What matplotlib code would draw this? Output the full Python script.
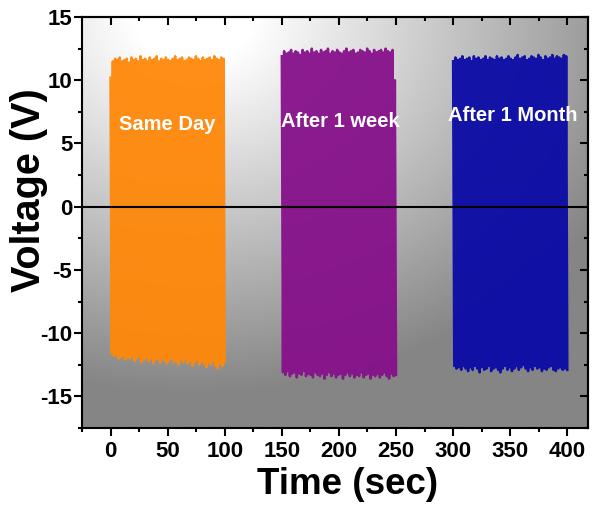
import numpy as np
import matplotlib
matplotlib.use("Agg")
import matplotlib.pyplot as plt
from matplotlib.ticker import MultipleLocator

plt.rcParams['font.family'] = ['Liberation Sans', 'DejaVu Sans']
plt.rcParams['font.weight'] = 'bold'
plt.rcParams['axes.unicode_minus'] = False

# time span of each recording (sec)
block_starts = [0, 150, 300]
block_ends = [100, 250, 400]
block_names = ["Same Day", "After 1 week", "After 1 Month"]
block_colors = ["#ff880a", "#86108a", "#0a0aa6"]

# positive / negative peak voltages (V)
sameday_up = [10.2, 11.5, 11.7, 11.6, 11.8, 11.5, 11.6, 11.7, 11.4, 11.8, 11.6, 11.7, 11.5, 11.9, 11.6,
              11.7, 11.5, 11.8, 11.6, 11.7, 11.9, 11.5, 11.7, 11.6, 11.8, 11.6, 11.5, 11.7, 11.9, 11.6,
              11.7, 11.8, 11.5, 11.6, 11.8, 11.7, 11.6, 11.9, 11.7, 11.5, 11.8, 11.6, 11.7, 11.8, 11.6,
              11.9, 11.7, 11.6, 11.8, 11.7]
sameday_lo = [-11.6, -11.8, -11.7, -12.0, -11.9, -11.8, -12.1, -11.9, -12.0, -11.8, -12.2, -12.0, -11.9,
              -12.3, -12.1, -11.9, -12.2, -12.0, -12.4, -12.1, -12.0, -12.3, -11.9, -12.2, -12.4, -12.1,
              -12.0, -12.3, -12.2, -12.5, -12.1, -12.3, -12.0, -12.4, -12.2, -12.6, -12.3, -12.1, -12.5,
              -12.2, -12.4, -12.7, -12.3, -12.5, -12.2, -12.6, -12.8, -12.4, -12.6, -12.3]
week_up = [11.9, 12.3, 12.1, 12.2, 12.4, 12.1, 12.3, 12.2, 12.0, 12.4, 12.2, 12.3, 12.1, 12.5, 12.2,
           12.3, 12.1, 12.4, 12.2, 12.3, 12.5, 12.1, 12.3, 12.2, 12.4, 12.2, 12.1, 12.3, 12.5, 12.2,
           12.3, 12.4, 12.1, 12.2, 12.4, 12.3, 12.2, 12.5, 12.3, 12.1, 12.4, 12.2, 12.3, 12.4, 12.2,
           12.5, 12.3, 12.2, 12.4, 10.0]
week_lo = [-13.1, -13.3, -13.0, -13.4, -13.2, -13.1, -13.5, -13.2, -13.3, -13.0, -13.4, -13.2, -13.3,
           -13.5, -13.1, -13.3, -13.4, -13.2, -13.6, -13.3, -13.1, -13.4, -13.2, -13.5, -13.3, -13.2,
           -13.6, -13.3, -13.1, -13.4, -13.2, -13.5, -13.3, -13.4, -13.1, -13.5, -13.3, -13.2, -13.6,
           -13.3, -13.4, -13.2, -13.5, -13.3, -13.1, -13.4, -13.6, -13.2, -13.4, -13.3]
month_up = [11.5, 11.8, 11.6, 11.7, 11.9, 11.6, 11.7, 11.8, 11.5, 11.9, 11.7, 11.8, 11.6, 11.7, 11.9,
            11.6, 11.8, 11.7, 11.6, 11.9, 11.7, 11.8, 11.6, 11.7, 11.9, 11.7, 11.6, 11.8, 12.0, 11.7,
            11.8, 11.9, 11.6, 11.7, 11.9, 11.8, 11.7, 12.0, 11.8, 11.6, 11.9, 11.7, 11.8, 12.0, 11.7,
            11.9, 11.8, 11.7, 12.0, 11.9]
month_lo = [-12.6, -12.8, -12.7, -12.9, -12.6, -12.8, -13.0, -12.7, -12.9, -12.6, -12.8, -13.1, -12.7,
            -12.9, -12.8, -12.6, -13.0, -12.8, -12.7, -12.9, -13.1, -12.8, -12.6, -12.9, -12.7, -13.0,
            -12.8, -12.6, -12.9, -12.7, -12.5, -12.8, -13.0, -12.7, -12.9, -12.6, -12.8, -12.7, -13.0,
            -12.8, -12.9, -12.7, -12.6, -12.9, -13.0, -12.8, -12.7, -12.9, -12.8, -12.9]

peaks_up = [sameday_up, week_up, month_up]
peaks_lo = [sameday_lo, week_lo, month_lo]

# label positions (sec, V)
label_x = [50, 201, 352]
label_y = [6.5, 6.7, 7.2]

fig = plt.figure(figsize=(5.92, 5.08), dpi=100)
ax = fig.add_axes([0.1385, 0.1575, 0.8545, 0.809])
xmin, xmax, ymin, ymax = -25, 418, -17.5, 15
ax.set_xlim(xmin, xmax)
ax.set_ylim(ymin, ymax)

# grey background, white towards the upper left, darker to the bottom
gx, gy = np.meshgrid(np.linspace(0, 1, 300), np.linspace(0, 1, 300))
d = np.sqrt(((gx - 0.22) / 0.95) ** 2 + ((gy - 0.0) / 0.92) ** 2)
bright = 1 - 0.48 * np.clip(d - 0.12, 0, 0.88) / 0.88
ax.imshow(bright, cmap='gray', vmin=0, vmax=1, extent=[xmin, xmax, ymin, ymax],
          origin='upper', aspect='auto', zorder=0, interpolation='bilinear')

for t0, t1, up, lo, c in zip(block_starts, block_ends, peaks_up, peaks_lo, block_colors):
    n = len(up)
    t = np.linspace(t0, t1, 2 * n)
    v = np.empty(2 * n)
    v[0::2] = up
    v[1::2] = lo
    ax.plot(t, v, color=c, lw=1.8, alpha=0.95, zorder=2)

ax.axhline(0, color='black', lw=1.5, zorder=3)

for name, x, y in zip(block_names, label_x, label_y):
    ax.text(x, y, name, color='white', fontsize=14.5, fontweight='bold',
            ha='center', va='center', zorder=4)

ax.xaxis.set_major_locator(MultipleLocator(50))
ax.xaxis.set_minor_locator(MultipleLocator(25))
ax.yaxis.set_major_locator(MultipleLocator(5))
ax.yaxis.set_minor_locator(MultipleLocator(2.5))
ax.tick_params(which='major', direction='out', length=6, width=1.5, labelsize=16)
ax.tick_params(which='minor', direction='out', length=3, width=1.5)
ax.tick_params(axis='y', which='major', pad=1)
for lab in ax.get_xticklabels() + ax.get_yticklabels():
    lab.set_fontweight('bold')

# inward ticks on top and right
top = ax.secondary_xaxis('top')
top.xaxis.set_major_locator(MultipleLocator(50))
top.xaxis.set_minor_locator(MultipleLocator(25))
top.tick_params(which='major', direction='in', length=6, width=1.5, labeltop=False)
top.tick_params(which='minor', direction='in', length=3, width=1.5)
right = ax.secondary_yaxis('right')
right.yaxis.set_major_locator(MultipleLocator(5))
right.yaxis.set_minor_locator(MultipleLocator(2.5))
right.tick_params(which='major', direction='in', length=6, width=1.5, labelright=False)
right.tick_params(which='minor', direction='in', length=3, width=1.5)

for s in list(ax.spines.values()) + [top.spines['top'], right.spines['right']]:
    s.set_linewidth(1.5)

ax.set_xlabel("Time (sec)", fontsize=26.5, fontweight='bold')
ax.set_ylabel("Voltage (V)", fontsize=28.5, fontweight='bold')
ax.xaxis.set_label_coords(0.525, -0.095)
ax.yaxis.set_label_coords(-0.068, 0.579)

fig.savefig("out.png", dpi=100)
